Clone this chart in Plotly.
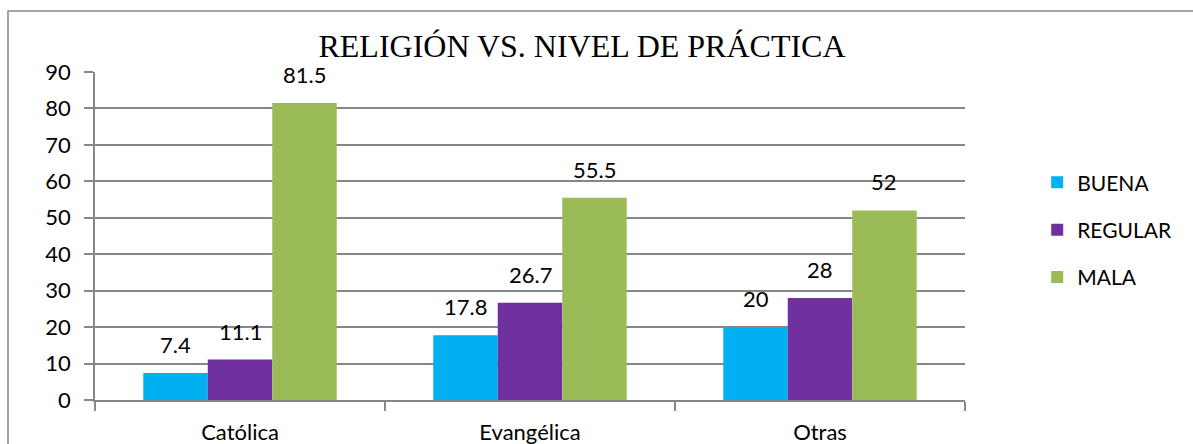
import plotly.graph_objects as go

# Religion vs. level of practice (percentages)
categories = ["Católica", "Evangélica", "Otras"]
buena = [7.4, 17.8, 20]
regular = [11.1, 26.7, 28]
mala = [81.5, 55.5, 52]
series_names = ["BUENA", "REGULAR", "MALA"]
series_colors = ["#00B0F0", "#7030A0", "#9BBB59"]
y_ticks = [0, 10, 20, 30, 40, 50, 60, 70, 80, 90]

W, H = 1193, 444
M_L, M_R, M_T, M_B = 95, 228, 72, 44
BARGAP = 0.333
LABEL_FONT = "Lato, 'Open Sans', sans-serif"
GRID = "#878787"

fig = go.Figure()
all_series = [buena, regular, mala]
for name, vals, col in zip(series_names, all_series, series_colors):
    fig.add_trace(go.Bar(
        name=name, x=categories, y=vals,
        marker=dict(color=col, line=dict(width=0)),
        legendgroup=name,
    ))

# value labels above each bar, shifted to the bar's slot inside the group
plot_w = W - M_L - M_R
plot_h = H - M_T - M_B
slot_px = plot_w / len(categories) * (1 - BARGAP) / len(series_names)
for i, vals in enumerate(all_series):
    for cat, v in zip(categories, vals):
        fig.add_annotation(
            x=cat, y=v, xref="x", yref="y",
            text=f"{v:g}", showarrow=False,
            xshift=(i - 1) * slot_px, yshift=13,
            yanchor="bottom", xanchor="center",
            font=dict(family=LABEL_FONT, size=22, color="#000000"),
        )

# outer chart frame (runs past the right and bottom edges of the page)
fig.add_shape(
    type="rect", xref="paper", yref="paper",
    x0=(8 - M_L) / plot_w, x1=(W + 40 - M_L) / plot_w,
    y0=-0.6, y1=(H - M_B - 11) / plot_h,
    line=dict(color="#878787", width=1.5), fillcolor="rgba(0,0,0,0)",
    layer="below",
)

fig.update_layout(
    width=W, height=H,
    margin=dict(l=M_L, r=M_R, t=M_T, b=M_B, autoexpand=False),
    paper_bgcolor="white", plot_bgcolor="white",
    barmode="group", bargap=BARGAP, bargroupgap=0,
    title=dict(
        text="RELIGIÓN VS. NIVEL DE PRÁCTICA",
        font=dict(family="'Liberation Serif', 'Times New Roman', serif", size=32, color="#000000"),
        x=582 / W, xanchor="center", xref="container",
        y=1 - 46 / H, yanchor="middle",
    ),
    legend=dict(
        x=1.083, y=0.725, xanchor="left", yanchor="top",
        font=dict(family=LABEL_FONT, size=21, color="#000000"),
        tracegroupgap=17, bgcolor="rgba(0,0,0,0)",
    ),
    showlegend=True,
)

fig.update_yaxes(
    range=[0, 90], tickvals=y_ticks, automargin=False,
    showgrid=True, gridcolor=GRID, gridwidth=1.5,
    showline=True, linecolor=GRID, linewidth=1.5,
    ticks="outside", ticklen=9, tickcolor=GRID, tickwidth=1.5,
    tickfont=dict(family=LABEL_FONT, size=22, color="#000000"),
    zeroline=False, ticklabelstandoff=9,
)
fig.update_xaxes(
    automargin=False,
    showline=True, linecolor=GRID, linewidth=1.5,
    ticks="outside", ticklen=9, tickcolor=GRID, tickwidth=1.5,
    tickson="boundaries",
    tickfont=dict(family=LABEL_FONT, size=22, color="#000000"),
    ticklabelstandoff=12,
)

fig.write_html("out.html")
